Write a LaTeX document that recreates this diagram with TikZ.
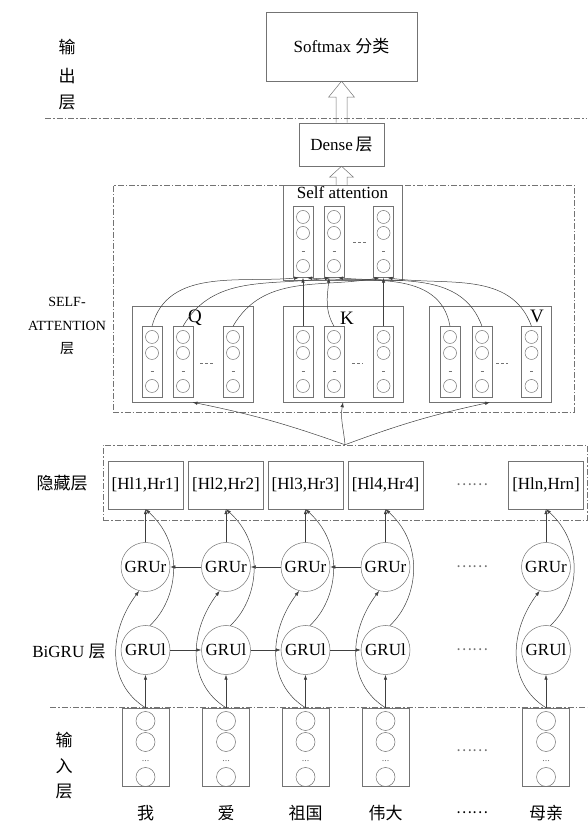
\documentclass[tikz,border=0pt]{standalone}
\usepackage{fontspec}
\setmainfont{Liberation Serif}
\newfontfamily\cjk{Noto Sans CJK SC}
\usetikzlibrary{calc,positioning,arrows.meta}
\definecolor{linegray}{gray}{0.45}
\definecolor{arrgray}{gray}{0.25}

\tikzset{
  every node/.style={font=\fontsize{17}{20}\selectfont},
  unit/.style={draw=linegray, line width=0.5pt, inner sep=0pt},
  gru/.style={unit, circle, minimum size=49pt},
  hidbox/.style={unit, minimum width=75pt, minimum height=48pt},
  colbox/.style={unit, minimum width=20pt, minimum height=71pt},
  inbox/.style={unit, minimum width=47pt, minimum height=78pt},
  dashframe/.style={draw=linegray, line width=0.5pt, dash pattern=on 6pt off 2pt on 1.5pt off 2pt},
  arr/.style={draw=arrgray, line width=0.5pt, -{Latex[length=5pt,width=3.5pt]}},
  dots/.style={text=linegray, font=\cjk\fontsize{15}{15}\selectfont},
  % 向量列
  vec/.pic={
    \node[colbox] (-col) at (0,0) {};
    \foreach \dy in {25,9,-24} \draw[linegray, line width=0.5pt] (0,\dy) circle (6.5);
    \draw[linegray] (-1.5,-9) -- (1.5,-9);
  },
  % 输入向量
  inp/.pic={
    \node[inbox] (-box) at (0,0) {};
    \foreach \dy in {26,5,-30} \draw[linegray, line width=0.5pt] (0,\dy) circle (9.5);
    \node[text=linegray, font=\fontsize{10}{10}\selectfont] (-dots) at (0,-14) {...};
  }
}

\begin{document}
\begin{tikzpicture}[x=1pt, y=1pt]
  \useasboundingbox (0,0) rectangle (587,821);

  % 输出层
  \node (o1) at (67,774) {\cjk 输};
  \node (o2) at (67,745) {\cjk 出};
  \node (o3) at (67,718) {\cjk 层};
  \node[unit, minimum width=151pt, minimum height=69pt] (soft) at (341.5,774.5) {Softmax {\cjk 分类}};
  \node[unit, minimum width=85pt, minimum height=43pt] (dense) at (341.5,676.5) {Dense\,{\cjk 层}};
  \draw[dashframe] (45,703) -- (587,703);

  % 空心箭头
  \draw[linegray, line width=0.5pt] ($(dense.north)+(-5.5,0)$) -- ($(soft.south)+(-5.5,-16)$) -- ($(soft.south)+(-13,-16)$)
    -- (soft.south) -- ($(soft.south)+(13,-16)$) -- ($(soft.south)+(5.5,-16)$) -- ($(dense.north)+(5.5,0)$);
  \draw[linegray, line width=0.5pt] ($(dense.south)+(-5.5,-19)$) -- ($(dense.south)+(-5.5,-11)$) -- ($(dense.south)+(-12,-11)$)
    -- (dense.south) -- ($(dense.south)+(12,-11)$) -- ($(dense.south)+(5.5,-11)$) -- ($(dense.south)+(5.5,-19)$);

  % SELF-ATTENTION 层
  \node[align=center, font=\fontsize{14}{23.5}\selectfont] (salab) at (67,495) {SELF-\\ATTENTION\\{\cjk 层}};
  \node[dashframe, minimum width=461pt, minimum height=227pt, inner sep=0pt] (saframe) at (343.5,522.5) {};
  \node[unit, minimum width=119pt, minimum height=95pt] (att) at (342.5,588.5) {};
  \node[below=1pt of att.north, inner sep=1pt] (attlab) {Self attention};
  \foreach \i/\x in {1/303,2/334,3/383.5} \pic (s\i) at (\x,579) {vec};
  \draw[linegray, densely dashed] (353,579) -- (366,579);

  \node[unit, minimum width=121pt, minimum height=96pt] (qbox) at (192.5,467) {};
  \node[unit, minimum width=120pt, minimum height=96pt] (kbox) at (343,467) {};
  \node[unit, minimum width=122pt, minimum height=96pt] (vbox) at (490,467) {};
  \node[font=\fontsize{19}{20}\selectfont] (qlab) at (195,503) {Q};
  \node[font=\fontsize{19}{20}\selectfont] (klab) at (347,503) {K};
  \node[font=\fontsize{19}{20}\selectfont] (vlab) at (537,505) {V};
  \foreach \i/\x in {1/152,2/183,3/233} \pic (q\i) at (\x,459) {vec};
  \foreach \i/\x in {1/303,2/334,3/383.5} \pic (k\i) at (\x,459) {vec};
  \foreach \i/\x in {1/450,2/482,3/531.5} \pic (v\i) at (\x,459) {vec};
  \draw[linegray, densely dashed] (200,458) -- (213,458);
  \draw[linegray, densely dashed] (352,458) -- (363,458);
  \draw[linegray, densely dashed] (496,458) -- (508,458);

  % Q K V -> Self attention
  \draw[arr] (q1-col.north) to[out=75,in=185] ([xshift=-4pt]s1-col.south);
  \draw[arr] (q2-col.north) to[out=60,in=188] ([xshift=-4pt]s2-col.south);
  \draw[arr] (q3-col.north) to[out=60,in=190] ([xshift=-4pt]s3-col.south);
  \draw[arr] (k1-col.north) -- (s1-col.south);
  \draw[arr] (k2-col.north) to[out=120,in=-95] ([xshift=-5pt]s2-col.south);
  \draw[arr] (k3-col.north) -- (s3-col.south);
  \draw[arr] (v1-col.north) to[out=100,in=-5] ([xshift=4pt]s1-col.south);
  \draw[arr] (v2-col.north) to[out=110,in=-5] ([xshift=4pt]s2-col.south);
  \draw[arr] (v3-col.north) to[out=110,in=-8] ([xshift=4pt]s3-col.south);

  % 隐藏层
  \node (hidlab) at (62,338) {\cjk 隐藏层};
  \node[dashframe, minimum width=484pt, minimum height=75pt, inner sep=0pt] (hidframe) at (345,338.5) {};
  \draw[arr] (hidframe.north) to[bend right=4] (qbox.south);
  \draw[arr] (hidframe.north) to[out=95,in=-100] (kbox.south);
  \draw[arr] (hidframe.north) to[bend left=4] (vbox.south);

  % BiGRU 层 / 输入层
  \node (grulab) at (69,169) {BiGRU {\cjk 层}};
  \node (i1) at (64,81) {\cjk 输};
  \node (i2) at (64,55) {\cjk 入};
  \node (i3) at (64,29) {\cjk 层};
  \draw[dashframe] (50,114) -- (587,114);

  \foreach \i/\x/\w in {1/145.5/我,2/226/爱,3/305.5/祖国,4/385.5/伟大,n/546/母亲} {
    \node[hidbox] (h\i) at (\x,336) {[Hl\i,Hr\i]};
    \node[gru] (r\i) at (\x,254) {GRUr};
    \node[gru] (l\i) at (\x,171) {GRUl};
    \pic (in\i) at (\x,74) {inp};
    \node (w\i) at (\x,8) {\cjk \w};
    \draw[arr] (in\i-box.north) -- (l\i);
    \draw[arr] (r\i) -- (h\i);
    \draw[arr] (in\i-box.north) .. controls +(-40,25) and +(-30,-40) .. (r\i.255);
    \draw[arr] (l\i.80) .. controls +(28,26) and +(40,-36) .. (h\i.south);
  }
  \foreach \a/\b in {1/2,2/3,3/4} {
    \draw[arr] (l\a) -- (l\b);
    \draw[arr] (r\b) -- (r\a);
  }

  % 省略号
  \node[dots] (d1) at (472,336) {……};
  \node[dots] (d2) at (472,254) {……};
  \node[dots] (d3) at (472,171) {……};
  \node[dots] (d4) at (472,70) {……};
  \node[dots, text=black] (d5) at (472,8) {……};
\end{tikzpicture}
\end{document}
